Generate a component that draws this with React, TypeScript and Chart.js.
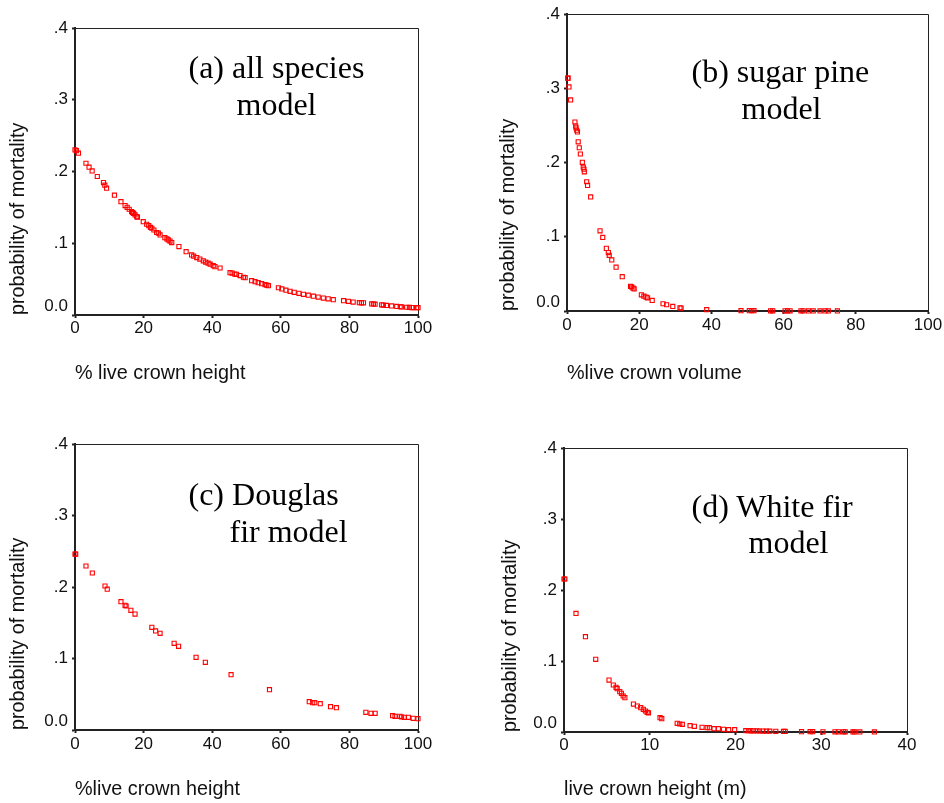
import React, { useEffect, useRef } from 'react';
import { Chart, registerables } from 'chart.js';

Chart.register(...registerables);

// ---------- data ----------
const aX = [0, 0.4, 1, 3.2, 4.1, 5, 6.5, 8.3, 8.7, 9.2, 11.5, 13.4, 14.6, 15.2, 15.8, 16.5, 16.8, 17.1, 17.5, 18, 18.2, 19.9, 20.9, 21.5, 22, 22.4, 23, 23.8, 24.3, 24.8, 26.2, 26.8, 27.2, 27.7, 28.2, 30.3, 32.4, 34, 34.6, 35.5, 36.4, 37.4, 38.1, 38.8, 39.4, 40.3, 40.8, 42.3, 45.2, 45.8, 46.6, 47.1, 48.1, 49.1, 49.6, 51.5, 52.5, 53.4, 54.4, 55.4, 55.9, 56.4, 59.3, 60.3, 61.5, 62.7, 63.9, 65.3, 66.6, 68, 69.5, 70.9, 72.4, 73.8, 75.3, 78.3, 79.7, 81.1, 82.9, 83.5, 84.1, 86.5, 87, 87.5, 89.4, 89.9, 90.8, 92.3, 93.8, 94.8, 95.2, 96.7, 97.5, 98.2, 98.6, 99.6, 100];
const aY = [0.23, 0.229, 0.2255, 0.2115, 0.206, 0.2008, 0.193, 0.1846, 0.181, 0.1767, 0.167, 0.158, 0.1525, 0.15, 0.1474, 0.144, 0.1427, 0.1415, 0.1395, 0.137, 0.1365, 0.13, 0.1265, 0.1245, 0.122, 0.1209, 0.1185, 0.115, 0.114, 0.1116, 0.1078, 0.106, 0.1046, 0.103, 0.101, 0.0953, 0.0883, 0.0837, 0.082, 0.08, 0.078, 0.0755, 0.0738, 0.0722, 0.0709, 0.0688, 0.0674, 0.0655, 0.059, 0.0585, 0.057, 0.0567, 0.0549, 0.0526, 0.052, 0.0479, 0.0465, 0.0451, 0.0437, 0.0423, 0.0416, 0.0409, 0.038, 0.0363, 0.0346, 0.033, 0.0316, 0.0302, 0.0288, 0.0276, 0.0262, 0.025, 0.0236, 0.0226, 0.0214, 0.0199, 0.019, 0.018, 0.0172, 0.017, 0.0169, 0.0155, 0.0153, 0.0151, 0.0142, 0.0139, 0.0134, 0.0127, 0.0119, 0.0115, 0.0113, 0.0108, 0.0106, 0.0104, 0.0103, 0.0102, 0.0102];

const bX = [0.2, 0.3, 0.55, 1, 2.2, 2.4, 2.5, 2.7, 2.9, 3.1, 3.4, 3.7, 4.25, 4.5, 4.7, 4.8, 5.45, 5.7, 6.55, 9.15, 9.9, 10.9, 11.45, 11.7, 12.4, 13.6, 15.3, 17.6, 17.9, 18.3, 18.6, 20.6, 21.3, 21.9, 22.3, 23.6, 26.6, 27.6, 29.3, 31.3, 31.6, 38.7, 48.2, 50.5, 51.2, 51.8, 56.4, 57, 60.4, 61.1, 61.8, 64.8, 65.4, 66.9, 68.2, 70.1, 71.5, 72.4, 74.9];
const bY = [0.3138, 0.3138, 0.302, 0.2844, 0.2547, 0.2493, 0.2467, 0.2436, 0.2413, 0.228, 0.22, 0.2116, 0.2004, 0.1938, 0.1911, 0.1876, 0.1742, 0.1693, 0.1538, 0.108, 0.0991, 0.0844, 0.0787, 0.0751, 0.0689, 0.0591, 0.0462, 0.0333, 0.0324, 0.0307, 0.0298, 0.0218, 0.02, 0.0187, 0.0178, 0.0142, 0.0098, 0.0084, 0.0062, 0.0044, 0.004, 0.0018, 0.0005, 0.0004, 0.0004, 0.0004, 0.0003, 0.0003, 0.0002, 0.0002, 0.0002, 0.0002, 0.0002, 0.0001, 0.0001, 0.0001, 0.0001, 0.0001, 0.0001];

const cX = [0, 0.2, 3.2, 5.05, 8.75, 9.4, 13.4, 14.6, 14.9, 16.3, 17.5, 22.4, 23.5, 24.8, 28.9, 30.2, 35.3, 38, 45.5, 56.7, 68.3, 69.3, 69.9, 71.5, 74.5, 76.2, 84.8, 86.3, 87.5, 92.6, 93.3, 94.7, 95.2, 96, 97.2, 98.6, 100];
const cY = [0.246, 0.246, 0.2294, 0.2196, 0.2014, 0.197, 0.1795, 0.1744, 0.1734, 0.1674, 0.1622, 0.1436, 0.1385, 0.1352, 0.1212, 0.117, 0.1016, 0.0946, 0.0774, 0.0564, 0.0396, 0.0382, 0.0382, 0.0368, 0.0326, 0.0312, 0.0247, 0.0233, 0.0233, 0.02, 0.0191, 0.0191, 0.0182, 0.0177, 0.0177, 0.0163, 0.0159];

const dX = [0, 0.1, 1.4, 2.5, 3.7, 5.25, 5.75, 6.07, 6.2, 6.5, 6.7, 6.9, 7.1, 8.1, 8.55, 8.95, 9.25, 9.5, 9.7, 9.85, 11.2, 11.4, 13.2, 13.5, 13.8, 14.7, 15.2, 16.1, 16.7, 16.95, 17.5, 18, 18.6, 19.2, 19.9, 21.2, 21.5, 21.8, 22.1, 22.5, 22.8, 23.2, 23.6, 24, 24.7, 25.6, 25.8, 27.7, 28.7, 29, 30.2, 31.6, 32, 32.6, 32.8, 33.7, 33.9, 34.5, 36.2];
const dY = [0.2155, 0.2155, 0.167, 0.1343, 0.1023, 0.0732, 0.0662, 0.0629, 0.061, 0.0568, 0.0545, 0.0507, 0.0484, 0.0394, 0.0366, 0.0343, 0.0319, 0.0296, 0.0277, 0.0268, 0.0202, 0.0188, 0.0122, 0.0113, 0.0108, 0.0089, 0.008, 0.0066, 0.0061, 0.0061, 0.0047, 0.0047, 0.0038, 0.0033, 0.0033, 0.0019, 0.0018, 0.0017, 0.0016, 0.0015, 0.0014, 0.0013, 0.0012, 0.0011, 0.001, 0.0008, 0.0008, 0.0005, 0.0004, 0.0004, 0.0003, 0.0002, 0.0002, 0.0002, 0.0002, 0.0001, 0.0001, 0.0001, 0.0001];

const yTickLabels = ['0.0', '.1', '.2', '.3', '.4'];
const pctTickLabels = ['0', '20', '40', '60', '80', '100'];
const heightTickLabels = ['0', '10', '20', '30', '40'];

const yTitle = 'probability of mortality';
const xTitles = ['% live crown height', '%live crown volume', '%live crown height', 'live crown height (m)'];
const notesA = ['(a) all species', 'model'];
const notesB = ['(b) sugar pine', 'model'];
const notesC = ['(c) Douglas', 'fir model'];
const notesD = ['(d) White fir', 'model'];

// ---------- styling ----------
const SANS = '"Liberation Sans", Arial, sans-serif';
const SERIF = '"Liberation Serif", "Times New Roman", serif';
const AXIS = '#222222';
const RED = '#ff0000';
const TICK_SIZE = 17;

type Note = { text: string; left: number; baseline: number };
type Panel = {
  left: number; top: number; width: number; height: number;
  yAxisW: number; xAxisH: number; padTop: number; padRight: number;
  xMax: number; xStep: number; xTickLabels: string[];
  xTitle: string; xTitlePad: number; yTitlePad: number; xTickPad: number;
  xs: number[]; ys: number[]; notes: Note[];
};

const panels: Panel[] = [
  {
    left: 0, top: 0, width: 440, height: 400, yAxisW: 75, xAxisH: 85, padTop: 28, padRight: 22,
    xMax: 100, xStep: 20, xTickLabels: pctTickLabels, xTitle: xTitles[0], xTitlePad: 14.3, yTitlePad: 6.8, xTickPad: 0,
    xs: aX, ys: aY,
    notes: [{ text: notesA[0], left: 188.5, baseline: 78 }, { text: notesA[1], left: 236.5, baseline: 115 }],
  },
  {
    left: 480, top: 0, width: 464, height: 400, yAxisW: 87, xAxisH: 89, padTop: 11, padRight: 16,
    xMax: 100, xStep: 20, xTickLabels: pctTickLabels, xTitle: xTitles[1], xTitlePad: 15, yTitlePad: 16.8, xTickPad: 1,
    xs: bX, ys: bY,
    notes: [{ text: notesB[0], left: 691.5, baseline: 82 }, { text: notesB[1], left: 741.5, baseline: 119 }],
  },
  {
    left: 0, top: 400, width: 440, height: 403, yAxisW: 75, xAxisH: 73, padTop: 44, padRight: 22,
    xMax: 100, xStep: 20, xTickLabels: pctTickLabels, xTitle: xTitles[2], xTitlePad: 1.3, yTitlePad: 6.8, xTickPad: 1,
    xs: cX, ys: cY,
    notes: [{ text: notesC[0], left: 188.5, baseline: 505 }, { text: notesC[1], left: 229.5, baseline: 542 }],
  },
  {
    left: 480, top: 400, width: 464, height: 403, yAxisW: 84, xAxisH: 71, padTop: 48, padRight: 37,
    xMax: 40, xStep: 10, xTickLabels: heightTickLabels, xTitle: xTitles[3], xTitlePad: 1.3, yTitlePad: 18.7, xTickPad: 0,
    xs: dX, ys: dY,
    notes: [{ text: notesD[0], left: 691.5, baseline: 517 }, { text: notesD[1], left: 748.5, baseline: 553 }],
  },
];

const framePlugin = {
  id: 'frameTopRight',
  beforeDatasetsDraw(chart: any) {
    const { ctx, chartArea: a } = chart;
    const t = Math.round(a.top) + 0.5;
    const r = Math.round(a.right) + 0.5;
    ctx.save();
    ctx.strokeStyle = AXIS;
    ctx.lineWidth = 1;
    ctx.beginPath();
    ctx.moveTo(a.left, t);
    ctx.lineTo(r, t);
    ctx.lineTo(r, a.bottom);
    ctx.stroke();
    ctx.restore();
  },
};

function ScatterPanel({ p }: { p: Panel }) {
  const ref = useRef<HTMLCanvasElement | null>(null);
  useEffect(() => {
    if (!ref.current) return;
    const chart = new Chart(ref.current, {
      type: 'scatter',
      data: {
        datasets: [
          {
            data: p.xs.map((x, i) => ({ x, y: p.ys[i] })),
            pointStyle: 'rect',
            pointRadius: 2.9,
            pointBorderWidth: 1.1,
            pointBorderColor: RED,
            pointBackgroundColor: 'rgba(0,0,0,0)',
            showLine: false,
            clip: false,
          } as any,
        ],
      },
      options: {
        animation: false,
        responsive: false,
        events: [],
        layout: { padding: { top: p.padTop, right: p.padRight, left: 0, bottom: 0 } },
        plugins: { legend: { display: false }, tooltip: { enabled: false } },
        scales: {
          x: {
            type: 'linear',
            min: 0,
            max: p.xMax,
            afterFit: (s: any) => { s.height = p.xAxisH; },
            ticks: {
              stepSize: p.xStep,
              padding: p.xTickPad,
              maxRotation: 0,
              color: '#111',
              font: { family: SANS, size: TICK_SIZE },
              callback: (_v: any, i: number) => p.xTickLabels[i],
            },
            grid: { display: true, drawOnChartArea: false, drawTicks: true, tickLength: 3, tickWidth: 2, tickColor: AXIS, color: AXIS },
            border: { display: true, color: AXIS, width: 2 },
            title: {
              display: true,
              text: p.xTitle,
              align: 'start',
              color: '#111',
              font: { family: SANS, size: 19.8 },
              padding: { top: 0, bottom: p.xTitlePad },
            },
          },
          y: {
            type: 'linear',
            min: 0,
            max: 0.4,
            afterFit: (s: any) => { s.width = p.yAxisW; },
            ticks: {
              stepSize: 0.1,
              padding: 4,
              color: '#111',
              font: (ctx: any) => ({ family: SANS, size: TICK_SIZE, lineHeight: ctx.index === 0 ? '18px' : 1.2 }),
              callback: (_v: any, i: number) => (i === 0 ? [yTickLabels[0], ''] : yTickLabels[i]),
            },
            grid: { display: true, drawOnChartArea: false, drawTicks: true, tickLength: 3, tickWidth: 2, tickColor: AXIS, color: AXIS },
            border: { display: true, color: AXIS, width: 2 },
            title: {
              display: true,
              text: yTitle,
              align: 'start',
              color: '#111',
              font: { family: SANS, size: 19.8 },
              padding: { top: p.yTitlePad, bottom: 0 },
            },
          },
        },
      } as any,
      plugins: [framePlugin],
    });
    return () => chart.destroy();
  }, [p]);

  return (
    <canvas
      ref={ref}
      width={p.width}
      height={p.height}
      style={{ position: 'absolute', left: p.left, top: p.top, width: p.width, height: p.height }}
    />
  );
}

export default function App() {
  return (
    <div style={{ position: 'absolute', left: 0, top: 0, width: 944, height: 803, background: '#ffffff', overflow: 'hidden' }}>
      {panels.map((p, i) => (
        <ScatterPanel key={i} p={p} />
      ))}
      {panels.flatMap((p, i) =>
        p.notes.map((n, j) => (
          <div
            key={`n${i}-${j}`}
            style={{
              position: 'absolute',
              left: n.left,
              top: n.baseline - 26.8,
              fontFamily: SERIF,
              fontSize: 32,
              lineHeight: '32px',
              color: '#000',
              whiteSpace: 'nowrap',
            }}
          >
            {n.text}
          </div>
        ))
      )}
    </div>
  );
}
